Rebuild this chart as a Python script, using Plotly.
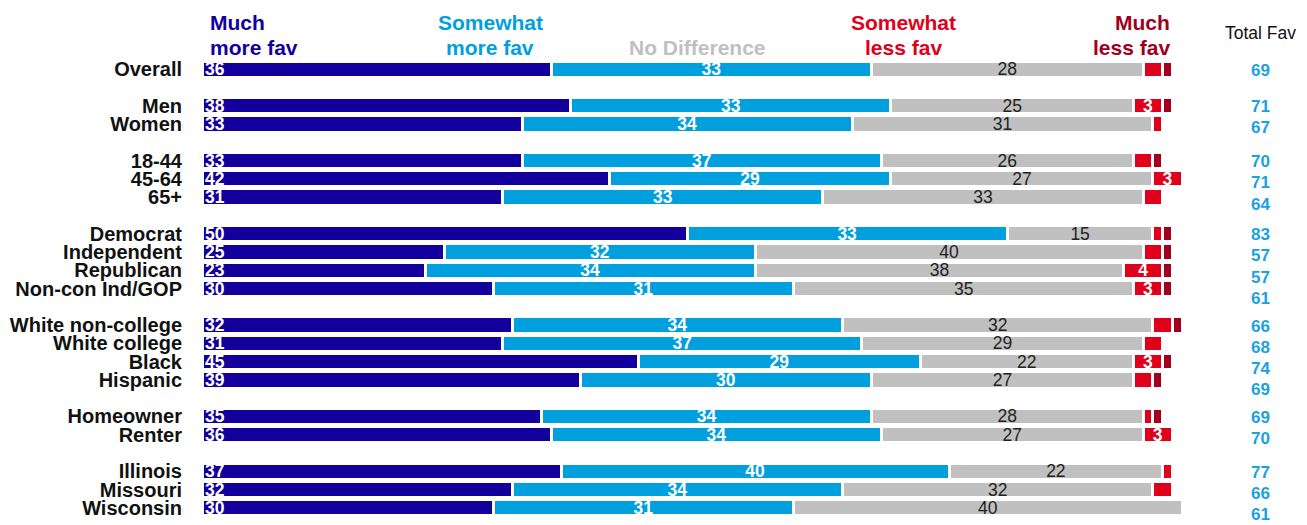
import plotly.graph_objects as go

# Survey groups (rows) and response shares (%)
groups = [
    ["Overall"],
    ["Men", "Women"],
    ["18-44", "45-64", "65+"],
    ["Democrat", "Independent", "Republican", "Non-con Ind/GOP"],
    ["White non-college", "White college", "Black", "Hispanic"],
    ["Homeowner", "Renter"],
    ["Illinois", "Missouri", "Wisconsin"],
]

much_more = [36, 38, 33, 33, 42, 31, 50, 25, 23, 30, 32, 31, 45, 39, 35, 36, 37, 32, 30]
some_more = [33, 33, 34, 37, 29, 33, 33, 32, 34, 31, 34, 37, 29, 30, 34, 34, 40, 34, 31]
no_diff = [28, 25, 31, 26, 27, 33, 15, 40, 38, 35, 32, 29, 22, 27, 28, 27, 22, 32, 40]
some_less = [2, 3, 1, 2, 3, 2, 1, 2, 4, 3, 2, 2, 3, 2, 1, 3, 1, 2, 0]
much_less = [1, 1, 0, 1, 0, 0, 1, 1, 1, 1, 1, 0, 1, 1, 1, 0, 0, 0, 0]
total_fav = [69, 71, 67, 70, 71, 64, 83, 57, 57, 61, 66, 68, 74, 69, 69, 70, 77, 66, 61]

series_names = ["Much more fav", "Somewhat more fav", "No Difference",
                "Somewhat less fav", "Much less fav"]
colors = ["#13009c", "#00a0df", "#c0c0c0", "#e0001b", "#a0001e"]

FONT = "Liberation Sans, Arial, sans-serif"

# Row positions: one blank row between groups
labels, rows, idx_in_group = [], [], []
r = 0
for g in groups:
    for i, name in enumerate(g):
        labels.append(name)
        rows.append(r)
        idx_in_group.append(i)
        r += 1
    r += 1
last_row = rows[-1]

fig = go.Figure()

series = [much_more, some_more, no_diff, some_less, much_less]
for k, (name, vals, col) in enumerate(zip(series_names, series, colors)):
    if k in (0, 1, 2):
        texts = [str(v) for v in vals]
    else:
        texts = [str(v) if v >= 3 else "" for v in vals]
    txt_color = "#222222" if k == 2 else "white"
    weight = "normal" if k == 2 else "bold"
    fig.add_trace(go.Bar(
        x=vals, y=rows, orientation="h", name=name,
        marker=dict(color=col, line=dict(color="white", width=3)),
        text=texts, textposition="inside",
        insidetextanchor="start" if k == 0 else "middle",
        textangle=0, constraintext="none",
        textfont=dict(family=FONT, size=17.5, color=txt_color, weight=weight),
        hoverinfo="x+name",
    ))

annotations = []

# Column headers (paper coordinates above the bars)
def header(lines, x, color, align, xanchor):
    ys = [1.0828, 1.0283] if len(lines) == 2 else [1.0283]
    for line, yy in zip(lines, ys):
        annotations.append(dict(
            x=x, y=yy, xref="paper", yref="paper", text=line, showarrow=False,
            xanchor=xanchor, yanchor="middle", align=align,
            font=dict(family=FONT, size=21, color=color, weight="bold"),
        ))

header(["Much", "more fav"], 0.0061, colors[0], "left", "left")
header(["Somewhat", "more fav"], 0.2939, colors[1], "center", "center")
header(["No Difference"], 0.5061, colors[2], "center", "center")
header(["Somewhat", "less fav"], 0.7163, colors[3], "center", "center")
header(["Much", "less fav"], 0.9898, colors[4], "right", "right")

TOTAL_X = 1.0796
annotations.append(dict(
    x=TOTAL_X, y=1.0588, xref="paper", yref="paper", text="Total Fav",
    showarrow=False, xanchor="center", yanchor="middle",
    font=dict(family=FONT, size=17.5, color="#111111"),
))

# Total favourable column
for yy, i, v in zip(rows, idx_in_group, total_fav):
    annotations.append(dict(
        x=TOTAL_X, y=yy, xref="paper", yref="y", text=str(v), showarrow=False,
        xanchor="center", yanchor="middle", yshift=-(1 + 3 * i),
        font=dict(family=FONT, size=17, color="#1ba1e2", weight="bold"),
    ))

fig.update_layout(
    width=1307, height=525,
    barmode="stack", bargap=0.11,
    showlegend=False,
    plot_bgcolor="white", paper_bgcolor="white",
    margin=dict(l=202, r=125, t=60, b=6),
    xaxis=dict(range=[0, 101], visible=False, fixedrange=True),
    yaxis=dict(
        range=[last_row + 0.5, -0.5], tickmode="array",
        tickvals=rows, ticktext=labels,
        ticks="outside", ticklen=15, tickcolor="rgba(0,0,0,0)",
        showgrid=False, zeroline=False, showline=False,
        tickfont=dict(family=FONT, size=20, color="#111111", weight="bold"),
        fixedrange=True,
    ),
    annotations=annotations,
)

fig.write_html("out.html")
